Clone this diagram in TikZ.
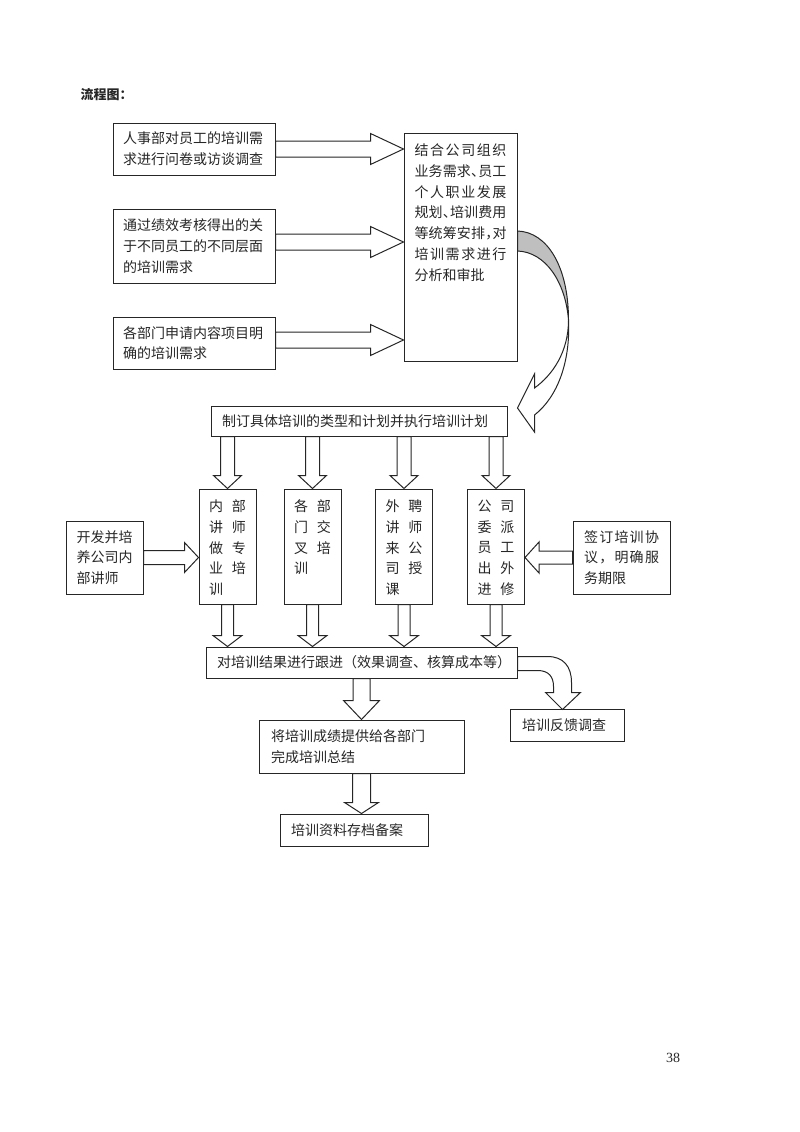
\documentclass[tikz,border=0pt]{standalone}
\usepackage{fontspec}
\setmainfont{Noto Sans CJK SC}
\newfontfamily\pagenumfont{Liberation Serif}
\usetikzlibrary{calc}

\makeatletter
% spread the characters of a line over a given width
\newcommand{\spreadline}[2]{\makebox[#1][s]{\spread@first#2\@nil}}
\def\spread@first#1{#1\spread@rest}
\def\spread@rest#1{\ifx#1\@nil\else\hfill#1\expandafter\spread@rest\fi}
\makeatother
\newcommand{\dun}{\makebox[7pt][l]{、}}
\newcommand{\dou}{\makebox[7pt][l]{，}}

% block arrow: from, to, shaft half width, head half width, head length
\newcommand{\fatarrow}[5]{%
  \path ($(#2)!#5!(#1)$) coordinate (hb);
  \draw[blockarr] ($(#1)!#3!90:(#2)$) -- ($(hb)!#3!90:(#2)$) -- ($(hb)!#4!90:(#2)$) -- (#2)
    -- ($(hb)!#4!-90:(#2)$) -- ($(hb)!#3!-90:(#2)$) -- ($(#1)!#3!-90:(#2)$) -- cycle;
}

\begin{document}
\begin{tikzpicture}[x=1pt,y=1pt,yscale=-1,xscale=1,
  every node/.style={font=\fontsize{14pt}{20.7pt}\selectfont, text=black!85},
  procbox/.style={draw=black!85, line width=1pt, inner ysep=0pt, align=left},
  blockarr/.style={draw=black!85, line width=1pt, fill=white},
]
\useasboundingbox (0,0) rectangle (800,1132);

%Text
\node[anchor=west, font=\bfseries\fontsize{13pt}{15pt}\selectfont] (title) at (77,95) {流程图：};

%Shape: Rectangle
\node[procbox, minimum width=162pt, minimum height=52pt, inner xsep=10pt, text width=142pt] (a1) at (194,149) {人事部对员工的培训需\\求进行问卷或访谈调查};
%Shape: Rectangle
\node[procbox, minimum width=162pt, minimum height=74pt, inner xsep=10pt, text width=142pt] (a2) at (194,246) {通过绩效考核得出的关\\于不同员工的不同层面\\的培训需求};
%Shape: Rectangle
\node[procbox, minimum width=162pt, minimum height=52pt, inner xsep=10pt, text width=142pt] (a3) at (194,343) {各部门申请内容项目明\\确的培训需求};
%Shape: Rectangle
\node[procbox, minimum width=113pt, minimum height=228pt, inner xsep=10.5pt, inner ysep=11pt] (b) at (460.5,247) {\parbox[c][206pt][t]{92pt}{%
  \spreadline{92pt}{结合公司组织}\\
  \spreadline{92pt}{业务需求\dun 员工}\\
  \spreadline{92pt}{个人职业发展}\\
  \spreadline{92pt}{规划\dun 培训费用}\\
  \spreadline{92pt}{等统筹安排\dou 对}\\
  \spreadline{92pt}{培训需求进行}\\
  分析和审批}};

%Shape: Rectangle
\node[procbox, minimum width=296pt, minimum height=30pt, inner xsep=11pt, text width=274pt] (c) at (359,421) {制订具体培训的类型和计划并执行培训计划};

%Shape: Rectangle
\node[procbox, minimum width=57pt, minimum height=115pt, inner xsep=10pt, inner ysep=11pt] (d1) at (227.5,546.5) {\parbox[c][93pt][t]{37pt}{%
  \spreadline{37pt}{内部}\\\spreadline{37pt}{讲师}\\\spreadline{37pt}{做专}\\\spreadline{37pt}{业培}\\训}};
%Shape: Rectangle
\node[procbox, minimum width=57pt, minimum height=115pt, inner xsep=10pt, inner ysep=11pt] (d2) at (312.5,546.5) {\parbox[c][93pt][t]{37pt}{%
  \spreadline{37pt}{各部}\\\spreadline{37pt}{门交}\\\spreadline{37pt}{叉培}\\训}};
%Shape: Rectangle
\node[procbox, minimum width=57pt, minimum height=115pt, inner xsep=10pt, inner ysep=11pt] (d3) at (404,546.5) {\parbox[c][93pt][t]{37pt}{%
  \spreadline{37pt}{外聘}\\\spreadline{37pt}{讲师}\\\spreadline{37pt}{来公}\\\spreadline{37pt}{司授}\\课}};
%Shape: Rectangle
\node[procbox, minimum width=57pt, minimum height=115pt, inner xsep=10pt, inner ysep=11pt] (d4) at (496,546.5) {\parbox[c][93pt][t]{37pt}{%
  \spreadline{37pt}{公司}\\\spreadline{37pt}{委派}\\\spreadline{37pt}{员工}\\\spreadline{37pt}{出外}\\\spreadline{37pt}{进修}}};

%Shape: Rectangle
\node[procbox, minimum width=77pt, minimum height=73pt, inner xsep=10.5pt, text width=56pt] (e) at (104.5,557.5) {开发并培\\养公司内\\部讲师};
%Shape: Rectangle
\node[procbox, minimum width=97pt, minimum height=73pt, inner xsep=11pt, text width=75pt] (f) at (621.5,557.5) {\spreadline{75pt}{签订培训协}\\\spreadline{75pt}{议，明确服}\\务期限};

%Shape: Rectangle
\node[procbox, minimum width=311pt, minimum height=31pt, inner xsep=11pt, text width=289pt] (g) at (361.5,662.5) {对培训结果进行跟进（效果调查、核算成本等）};
%Shape: Rectangle
\node[procbox, minimum width=205pt, minimum height=53pt, inner xsep=12pt, text width=181pt] (h) at (361.5,746.5) {将培训成绩提供给各部门\\完成培训总结};
%Shape: Rectangle
\node[procbox, minimum width=148pt, minimum height=32pt, inner xsep=11pt, text width=126pt] (i) at (354,830) {培训资料存档备案};
%Shape: Rectangle
\node[procbox, minimum width=114pt, minimum height=32pt, inner xsep=12pt, text width=90pt] (j) at (567,725) {培训反馈调查};

%Text
\node[font=\pagenumfont\fontsize{14pt}{16pt}\selectfont] (pnum) at (673,1058) {38};

%Shape: Right Arrow
\coordinate (a1s) at (a1.east);
\coordinate (a1b) at (a1s -| b.west);
\fatarrow{a1s}{a1b}{8pt}{15.5pt}{33pt}
\coordinate (a2s) at ($(a2.east)+(0,-4)$);
\coordinate (a2b) at (a2s -| b.west);
\fatarrow{a2s}{a2b}{8pt}{15.5pt}{33pt}
\coordinate (a3s) at ($(a3.east)+(0,-3)$);
\coordinate (a3b) at (a3s -| b.west);
\fatarrow{a3s}{a3b}{8pt}{15.5pt}{33pt}

%Shape: Down Arrow
\foreach \d in {d1,d2,d3,d4}{
  \coordinate (\d top) at (\d.north |- c.south);
  \fatarrow{\d top}{\d.north}{7pt}{14pt}{13pt}
  \coordinate (\d bot) at (\d.south |- g.north);
  \fatarrow{\d.south}{\d bot}{6pt}{14.5pt}{11pt}
}

%Shape: Right Arrow
\coordinate (ed) at (e.east -| d1.west);
\fatarrow{e.east}{ed}{7pt}{15pt}{14pt}
%Shape: Left Arrow
\coordinate (fd) at (f.west -| d4.east);
\fatarrow{f.west}{fd}{6.5pt}{15.5pt}{14pt}

%Shape: Down Arrow
\coordinate (gh) at (h.north |- g.south);
\fatarrow{gh}{h.north}{8.5pt}{18pt}{19pt}
\coordinate (hi) at (h.south |- i.north);
\fatarrow{h.south}{hi}{9pt}{17pt}{11pt}

%Shape: Curved Arrow
\begin{scope}[shift={(b.east)}]
\draw[blockarr, fill=black!25] (0,-16) .. controls (30,-15) and (51,20) .. (51,73) .. controls (48,35) and (28,5) .. (0,4) -- cycle ;
\draw[blockarr] (51,73) .. controls (51,105) and (35,128) .. (17,141) -- (17,127) -- (0,161) -- (17,185) -- (17,168) .. controls (40,150) and (53,115) .. (51,73) -- cycle ;
\end{scope}

%Shape: Bent Arrow
\begin{scope}[shift={(g.east)}]
\draw[blockarr] (0,-6) -- (30,-6) .. controls (46,-6) and (54,4) .. (54,20) -- (54,30) -- (63,30) -- (45,47) -- (28,30) -- (36,30) -- (36,24) .. controls (36,14) and (31,8) .. (20,8) -- (0,8) -- cycle ;
\end{scope}

\end{tikzpicture}
\end{document}
